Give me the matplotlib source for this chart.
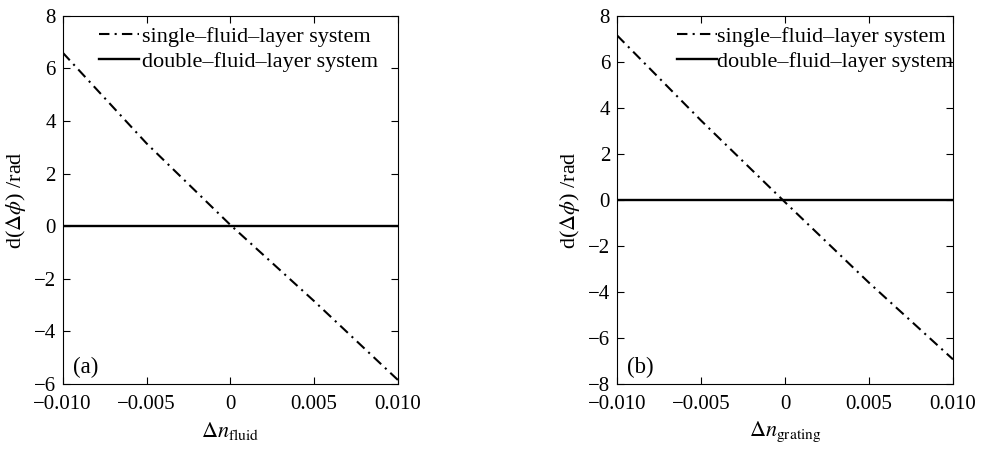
import matplotlib
matplotlib.use("Agg")
import matplotlib.pyplot as plt
import numpy as np

# data
x_vals = [-0.010, -0.005, 0.0, 0.005, 0.010]
single_a = [6.6, 3.15, 0.05, -2.85, -5.85]
double_a = [0.0, 0.0, 0.0, 0.0, 0.0]
single_b = [7.15, 3.45, -0.1, -3.6, -6.93]
double_b = [0.0, 0.0, 0.0, 0.0, 0.0]
xticks = [-0.010, -0.005, 0.0, 0.005, 0.010]
xticklabels = ["\u22120.010", "\u22120.005", "0", "0.005", "0.010"]
legend_labels = ["single\u2013fluid\u2013layer system", "double\u2013fluid\u2013layer system"]

plt.rcParams['font.family'] = ['Liberation Serif', 'DejaVu Serif']
plt.rcParams['mathtext.fontset'] = 'stix'
plt.rcParams['axes.unicode_minus'] = True

fig = plt.figure(figsize=(9.89, 4.49), dpi=100)
ax1 = fig.add_axes([0.0634, 0.1448, 0.339, 0.820])
ax2 = fig.add_axes([0.6239, 0.1448, 0.3397, 0.820])

FS = 15
panels = [
    (ax1, single_a, double_a, (-6, 8), [-6, -4, -2, 0, 2, 4, 6, 8], r'$\Delta n_{\rm fluid}$', '(a)', 0.940, 0.14),
    (ax2, single_b, double_b, (-8, 8), [-8, -6, -4, -2, 0, 2, 4, 6, 8], r'$\Delta n_{\rm grating}$', '(b)', 1.0, 0.0),
]
for ax, s, d, ylim, yt, xl, tag, lx, htp in panels:
    ax.plot(x_vals, s, color='black', lw=1.5, linestyle=(0, (5, 2.5, 1, 2.5)), label=legend_labels[0])
    ax.plot(x_vals, d, color='black', lw=1.7, linestyle='-', label=legend_labels[1])
    ax.set_xlim(-0.010, 0.010)
    ax.set_ylim(*ylim)
    ax.set_xticks(xticks)
    ax.set_xticklabels(xticklabels)
    ax.set_yticks(yt)
    ax.set_yticklabels([("\u2212" + str(-v)) if v < 0 else str(v) for v in yt])
    ax.tick_params(direction='in', top=True, right=True, labelsize=FS, length=5, width=0.8)
    ax.tick_params(axis='x', pad=8)
    ax.tick_params(axis='y', pad=5)
    for sp in ax.spines.values():
        sp.set_linewidth(0.8)
    ax.set_xlabel(xl, fontsize=FS + 1, labelpad=4)
    ax.set_ylabel(r'd($\Delta\phi$) /rad', fontsize=FS + 1, labelpad=4)
    ax.text(0.03, 0.046, tag, transform=ax.transAxes, fontsize=16.5, ha='left', va='center')
    ax.legend(loc='upper right', frameon=False, fontsize=16, handlelength=1.8,
              handletextpad=htp, borderaxespad=0.0, borderpad=0.0, labelspacing=0.2,
              bbox_to_anchor=(lx, 0.972))

fig.savefig('out.png', dpi=100)
